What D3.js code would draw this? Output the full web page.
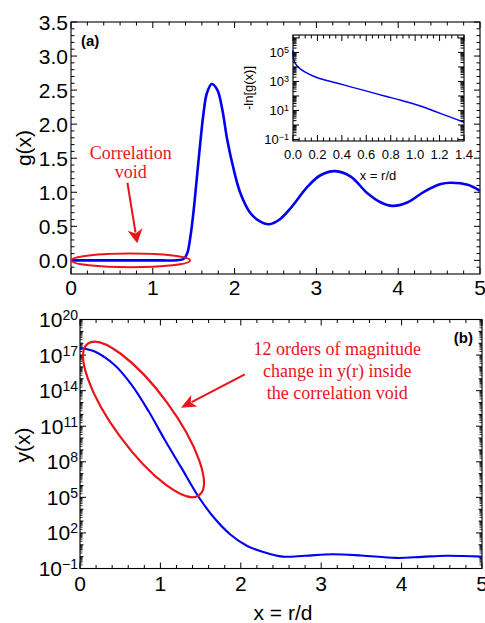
<!DOCTYPE html>
<html>
<head>
<meta charset="utf-8">
<script src="https://cdn.jsdelivr.net/npm/d3@7"></script>
<style>
  body { margin: 0; background: #fff; }
  svg { display: block; }
  text { font-family: "Liberation Sans", Arial, sans-serif; fill: #000; }
  .serif { font-family: "Liberation Serif", "Times New Roman", serif; }
</style>
</head>
<body>
<script>
// ---- data ----
// panel (a): pair correlation g(x)
const gX = [0, 1.0, 1.3, 1.376, 1.42, 1.46, 1.50, 1.54, 1.58, 1.62, 1.66, 1.72, 1.79, 1.85, 1.91,
  1.99, 2.07, 2.19, 2.30, 2.42, 2.55, 2.68, 2.89, 3.05, 3.23, 3.42, 3.62, 3.79, 3.93, 4.11, 4.32,
  4.52, 4.64, 4.85, 5.0];
const gVals = [0, 0, 0.003, 0.02, 0.10, 0.35, 0.74, 1.23, 1.72, 2.16, 2.45, 2.59, 2.50, 2.21, 1.77,
  1.33, 0.99, 0.70, 0.58, 0.53, 0.60, 0.76, 1.08, 1.25, 1.31, 1.23, 0.99, 0.85, 0.80, 0.85, 1.01,
  1.12, 1.14, 1.11, 1.02];

// inset: -ln[g(x)]
const lnX = [0, 0.003, 0.03, 0.1, 0.2, 0.35, 0.48, 0.62, 0.75, 0.89, 1.03, 1.16, 1.3, 1.4];
const lnVals = [1.4e5, 3.7e4, 1.26e4, 4.4e3, 1.8e3, 8.1e2, 4.1e2, 2.0e2, 1.0e2, 49, 22, 8.9, 3.2, 1.55];

// panel (b): cavity function y(x)
const yX = [0, 0.08, 0.19, 0.43, 0.64, 0.85, 1.05, 1.26, 1.47, 1.67, 1.87, 2.08, 2.27, 2.52, 2.8,
  3.14, 3.5, 3.93, 4.25, 4.55, 5.0];
const yVals = [4.0e17, 3.2e17, 1.9e17, 1.45e16, 3.2e14, 2.0e12, 8.0e9, 3.2e7, 1.25e5, 1.8e3, 74, 7.9,
  2.6, 1.0, 1.2, 1.6, 1.25, 0.78, 0.95, 1.2, 1.0];

// tick labels
const aXTicks = [0, 1, 2, 3, 4, 5];
const aYTicks = [0, 0.5, 1, 1.5, 2, 2.5, 3, 3.5];
const bXTicks = [0, 1, 2, 3, 4, 5];
const bYExp = [-1, 2, 5, 8, 11, 14, 17, 20];
const inXTicks = [0, 0.2, 0.4, 0.6, 0.8, 1.0, 1.2, 1.4];
const inYExp = [-1, 1, 3, 5];

const blue = "#0000ee", red = "#e8141b";
const smooth = d3.curveCatmullRom.alpha(0.5);

const svg = d3.select("body").append("svg")
  .attr("width", 485)
  .attr("height", 623);

// draws inward ticks on all four sides of a frame
function frameTicks(g, sx, sy, xMaj, xMin, yMaj, yMin) {
  const [x0, x1] = sx.range(), [y0, y1] = sy.range();
  const seg = (x1a, y1a, x2a, y2a) => g.append("line")
    .attr("x1", x1a).attr("y1", y1a).attr("x2", x2a).attr("y2", y2a)
    .attr("stroke", "#000").attr("stroke-width", 1);
  xMaj.forEach(v => { const p = sx(v); seg(p, y0, p, y0 - 6); seg(p, y1, p, y1 + 6); });
  xMin.forEach(v => { const p = sx(v); seg(p, y0, p, y0 - 3.5); seg(p, y1, p, y1 + 3.5); });
  yMaj.forEach(v => { const p = sy(v); seg(x0, p, x0 + 6, p); seg(x1, p, x1 - 6, p); });
  yMin.forEach(v => { const p = sy(v); seg(x0, p, x0 + 3.5, p); seg(x1, p, x1 - 3.5, p); });
  g.append("rect")
    .attr("x", x0).attr("y", y1)
    .attr("width", x1 - x0).attr("height", y0 - y1)
    .attr("fill", "none").attr("stroke", "#000").attr("stroke-width", 1.1);
}

function logMinor(lo, hi) {
  const out = [];
  for (let e = lo; e < hi; e++) for (let k = 2; k <= 9; k++) out.push(k * Math.pow(10, e));
  return out;
}

function arrow(g, x1, y1, x2, y2, len, wid) {
  const a = Math.atan2(y2 - y1, x2 - x1);
  const bx = x2 - len * Math.cos(a), by = y2 - len * Math.sin(a);
  g.append("line")
    .attr("x1", x1).attr("y1", y1)
    .attr("x2", x2 - (len - 3) * Math.cos(a)).attr("y2", y2 - (len - 3) * Math.sin(a))
    .attr("stroke", red).attr("stroke-width", 2);
  const px = -Math.sin(a) * wid / 2, py = Math.cos(a) * wid / 2;
  const back = 4;
  g.append("path")
    .attr("d", `M${x2},${y2}L${bx + px},${by + py}L${bx + back * Math.cos(a)},${by + back * Math.sin(a)}L${bx - px},${by - py}Z`)
    .attr("fill", red);
}

// ---------- panel (a) ----------
const xA = d3.scaleLinear().domain([0, 5]).range([71, 480]);
const yA = d3.scaleLinear().domain([-0.2, 3.5]).range([274, 22]);
const gA = svg.append("g");

frameTicks(gA, xA, yA, aXTicks, d3.range(0, 5.01, 0.2).filter(v => Math.abs(v - Math.round(v)) > 1e-6),
  aYTicks, d3.range(-0.1, 3.51, 0.1).filter(v => Math.abs(v * 2 - Math.round(v * 2)) > 1e-6));

gA.selectAll(".xl").data(aXTicks).enter().append("text")
  .attr("x", d => xA(d)).attr("y", 295)
  .attr("text-anchor", "middle").attr("font-size", 21)
  .text(d => d);
gA.selectAll(".yl").data(aYTicks).enter().append("text")
  .attr("x", 68).attr("y", d => yA(d)).attr("dy", "0.36em")
  .attr("text-anchor", "end").attr("font-size", 21)
  .text(d => d3.format(".1f")(d));
gA.append("text")
  .attr("transform", "translate(31,148) rotate(-90)")
  .attr("text-anchor", "middle").attr("font-size", 21)
  .text("g(x)");
gA.append("text")
  .attr("x", 81).attr("y", 46)
  .attr("font-size", 15).attr("font-weight", "bold")
  .text("(a)");

gA.append("path")
  .datum(gX.map((v, i) => [v, gVals[i]]))
  .attr("d", d3.line().x(d => xA(d[0])).y(d => yA(d[1])).curve(smooth))
  .attr("fill", "none").attr("stroke", blue).attr("stroke-width", 2.6);

// correlation void annotation
gA.append("ellipse")
  .attr("cx", xA(0.73)).attr("cy", yA(0))
  .attr("rx", xA(1.455) - xA(0.73)).attr("ry", 6.8)
  .attr("fill", "none").attr("stroke", red).attr("stroke-width", 2);
gA.append("text").attr("class", "serif")
  .attr("x", xA(0.73)).attr("y", yA(1.49))
  .attr("text-anchor", "middle").attr("font-size", 18).style("fill", red)
  .text("Correlation");
gA.append("text").attr("class", "serif")
  .attr("x", xA(0.73)).attr("y", yA(1.21))
  .attr("text-anchor", "middle").attr("font-size", 18).style("fill", red)
  .text("void");
arrow(gA, xA(0.69), yA(1.14), xA(0.81), yA(0.25), 14, 15);

// ---------- inset ----------
const xI = d3.scaleLinear().domain([0, 1.4]).range([293, 464]);
const yI = d3.scaleLog().domain([Math.pow(10, -1.1), Math.pow(10, 6.2)]).range([141, 35]);
const gI = svg.append("g");

gI.append("rect")
  .attr("x", 293).attr("y", 35).attr("width", 171).attr("height", 106)
  .attr("fill", "#fff");
gI.append("path")
  .datum(lnX.map((v, i) => [v, lnVals[i]]))
  .attr("d", d3.line().x(d => xI(d[0])).y(d => yI(d[1])).curve(smooth))
  .attr("fill", "none").attr("stroke", blue).attr("stroke-width", 1.4);

frameTicks(gI, xI, yI, inXTicks,
  d3.range(0.05, 1.4, 0.05).filter(v => Math.abs(v * 5 - Math.round(v * 5)) > 1e-6),
  d3.range(-1, 7).map(e => Math.pow(10, e)).filter(v => v <= Math.pow(10, 6.2)),
  logMinor(-1, 6).filter(v => v <= Math.pow(10, 6.2)));

gI.selectAll(".xl").data(inXTicks).enter().append("text")
  .attr("x", d => xI(d)).attr("y", 159)
  .attr("text-anchor", "middle").attr("font-size", 13)
  .text(d => d3.format(".1f")(d));
const inYL = gI.selectAll(".yl").data(inYExp).enter().append("text")
  .attr("x", 289).attr("y", d => yI(Math.pow(10, d))).attr("dy", "0.36em")
  .attr("text-anchor", "end").attr("font-size", 13);
inYL.append("tspan").text("10");
inYL.append("tspan").attr("dy", "-0.45em").attr("font-size", 9)
  .text(d => String(d).replace("-", "\u2212"));
gI.append("text")
  .attr("transform", "translate(253,88) rotate(-90)")
  .attr("text-anchor", "middle").attr("font-size", 13)
  .text("-ln[g(x)]");
gI.append("text")
  .attr("x", 378).attr("y", 180)
  .attr("text-anchor", "middle").attr("font-size", 13)
  .text("x = r/d");

// ---------- panel (b) ----------
const xB = d3.scaleLinear().domain([0, 5]).range([80, 482]);
const yB = d3.scaleLog().domain([1e-1, 1e20]).range([568.5, 319.5]);
const gB = svg.append("g");

frameTicks(gB, xB, yB, bXTicks, d3.range(0, 5.01, 0.2).filter(v => Math.abs(v - Math.round(v)) > 1e-6),
  bYExp.map(e => Math.pow(10, e)),
  d3.range(-1, 21).filter(e => !bYExp.includes(e)).map(e => Math.pow(10, e)));
// 2..9 sub-decade ticks
const subs = logMinor(-1, 20);
gB.selectAll(".sub").data(subs).enter().append("line")
  .attr("x1", 80).attr("x2", 82.5)
  .attr("y1", d => yB(d)).attr("y2", d => yB(d))
  .attr("stroke", "#000").attr("stroke-width", 0.8);
gB.selectAll(".subr").data(subs).enter().append("line")
  .attr("x1", 482).attr("x2", 479.5)
  .attr("y1", d => yB(d)).attr("y2", d => yB(d))
  .attr("stroke", "#000").attr("stroke-width", 0.8);

gB.selectAll(".xl").data(bXTicks).enter().append("text")
  .attr("x", d => xB(d)).attr("y", 591)
  .attr("text-anchor", "middle").attr("font-size", 21)
  .text(d => d);
const bYL = gB.selectAll(".yl").data(bYExp).enter().append("text")
  .attr("x", 78).attr("y", d => yB(Math.pow(10, d))).attr("dy", "0.36em")
  .attr("text-anchor", "end").attr("font-size", 21);
bYL.append("tspan").text("10");
bYL.append("tspan").attr("dy", "-0.5em").attr("font-size", 14)
  .text(d => String(d).replace("-", "\u2212"));
gB.append("text")
  .attr("transform", "translate(30,445) rotate(-90)")
  .attr("text-anchor", "middle").attr("font-size", 21)
  .text("y(x)");
gB.append("text")
  .attr("x", 283).attr("y", 620)
  .attr("text-anchor", "middle").attr("font-size", 21)
  .text("x = r/d");
gB.append("text")
  .attr("x", 473).attr("y", 343)
  .attr("text-anchor", "end").attr("font-size", 15).attr("font-weight", "bold")
  .text("(b)");

gB.append("path")
  .datum(yX.map((v, i) => [v, yVals[i]]))
  .attr("d", d3.line().x(d => xB(d[0])).y(d => yB(d[1])).curve(smooth))
  .attr("fill", "none").attr("stroke", blue).attr("stroke-width", 2.1);

// 12 orders annotation
gB.append("ellipse")
  .attr("cx", 0).attr("cy", 0).attr("rx", 94).attr("ry", 29)
  .attr("transform", `translate(${xB(0.79)},${yB(Math.pow(10, 11.57))}) rotate(53.7)`)
  .attr("fill", "none").attr("stroke", red).attr("stroke-width", 2.2);
arrow(gB, xB(2.05), yB(Math.pow(10, 15.38)), xB(1.256), yB(Math.pow(10, 12.56)), 15, 13);
["12 orders of magnitude", "change in y(r) inside", "the correlation void"].forEach((t, i) => {
  gB.append("text").attr("class", "serif")
    .attr("x", xB(3.2)).attr("y", yB(1e17) + i * 22)
    .attr("text-anchor", "middle").attr("font-size", 18).style("fill", red)
    .text(t);
});
</script>
</body>
</html>
